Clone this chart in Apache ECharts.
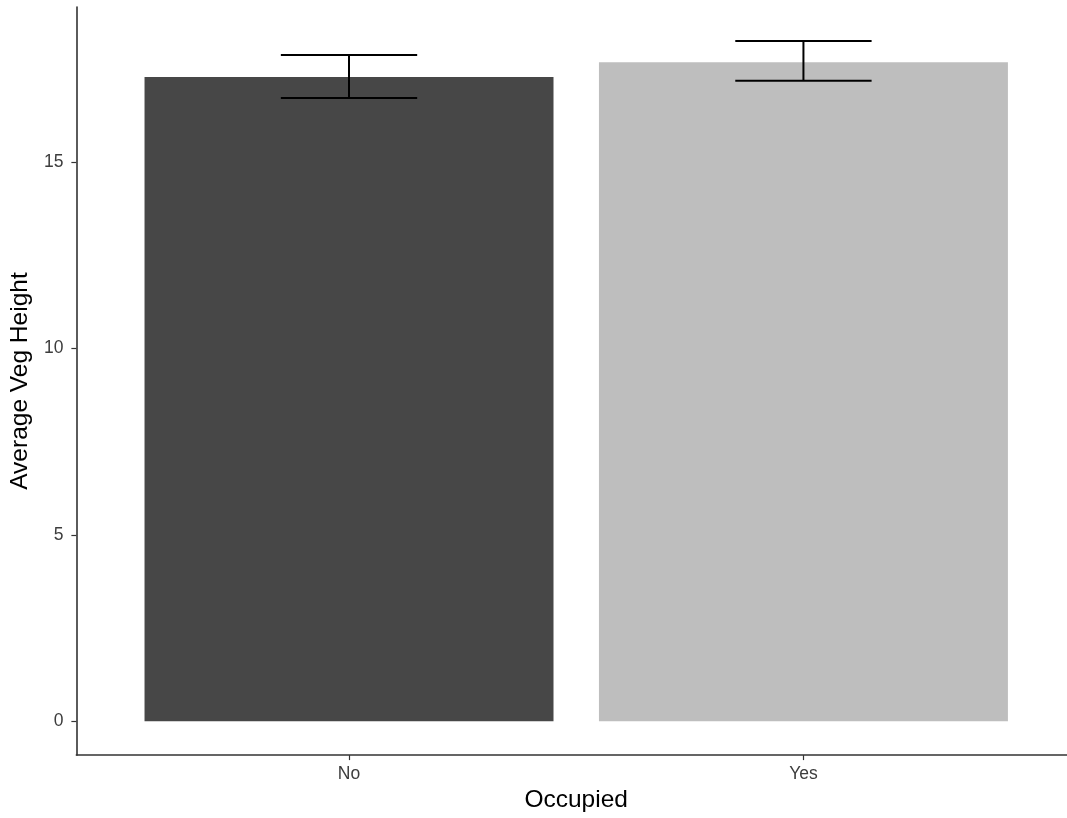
<!DOCTYPE html>
<html>
<head>
<meta charset="utf-8">
<title>Average Veg Height by Occupied</title>
<script src="https://cdn.jsdelivr.net/npm/echarts@6/dist/echarts.min.js"></script>
<style>
  html, body { margin: 0; padding: 0; background: #fff; }
  #chart { width: 1067px; height: 818px; }
</style>
</head>
<body>
<div id="chart"></div>
<script>
// data
const categories = ["No", "Yes"];
const means = [17.29, 17.69];
const lower = [16.73, 17.19];
const upper = [17.88, 18.26];
const yTicks = [0, 5, 10, 15];

const barColors = ["#474747", "#bebebe"];
const font = '"Liberation Sans", Arial, Helvetica, sans-serif';

const xPos = categories.map((c, i) => i + 1);
const barData = categories.map((c, i) => [xPos[i], means[i]]);
const errData = categories.map((c, i) => [xPos[i], lower[i], upper[i]]);

const chart = echarts.init(document.getElementById("chart"));

const option = {
  animation: false,
  backgroundColor: "#fff",
  grid: { left: 76, right: 0, top: 7, bottom: 60 },
  xAxis: {
    type: "value",
    min: 0.4,
    max: 2.58, // plot is cropped a little on the right
    name: "Occupied",
    nameLocation: "middle",
    nameGap: 29,
    nameTextStyle: { color: "#000", fontSize: 24.5, fontFamily: font, padding: [0, 0, 0, 9] },
    splitLine: { show: false },
    axisLine: { onZero: false, lineStyle: { color: "#333", width: 1.6 } },
    axisTick: { customValues: xPos, length: 5, lineStyle: { color: "#333", width: 1.2 } },
    axisLabel: {
      customValues: xPos,
      formatter: (v) => categories[Math.round(v) - 1] || "",
      margin: 10,
      color: "#3d3d3d",
      fontSize: 17.5,
      fontFamily: font,
    },
  },
  yAxis: {
    type: "value",
    min: -0.91,
    max: 19.17,
    name: "Average Veg Height",
    nameLocation: "middle",
    nameGap: 32,
    nameTextStyle: { color: "#000", fontSize: 24.5, fontFamily: font },
    splitLine: { show: false },
    axisLine: { show: true, onZero: false, lineStyle: { color: "#333", width: 1.6 } },
    axisTick: { show: true, customValues: yTicks, length: 5, lineStyle: { color: "#333", width: 1.2 } },
    axisLabel: {
      customValues: yTicks,
      margin: 13,
      color: "#3d3d3d",
      fontSize: 17.5,
      fontFamily: font,
    },
  },
  series: [
    {
      name: "bars",
      type: "custom",
      data: barData,
      renderItem: (params, api) => {
        const x = api.value(0);
        const y = api.value(1);
        const p0 = api.coord([x - 0.45, y]);
        const p1 = api.coord([x + 0.45, 0]);
        return {
          type: "rect",
          shape: { x: p0[0], y: p0[1], width: p1[0] - p0[0], height: p1[1] - p0[1] },
          style: { fill: barColors[params.dataIndex] },
        };
      },
    },
    {
      name: "errors",
      type: "custom",
      data: errData,
      z: 3,
      renderItem: (params, api) => {
        const x = api.value(0);
        const lo = api.coord([x, api.value(1)]);
        const hi = api.coord([x, api.value(2)]);
        const l = api.coord([x - 0.15, 0])[0];
        const r = api.coord([x + 0.15, 0])[0];
        const st = { stroke: "#000", lineWidth: 2 };
        return {
          type: "group",
          children: [
            { type: "line", shape: { x1: l, y1: hi[1], x2: r, y2: hi[1] }, style: st },
            { type: "line", shape: { x1: l, y1: lo[1], x2: r, y2: lo[1] }, style: st },
            { type: "line", shape: { x1: lo[0], y1: lo[1], x2: hi[0], y2: hi[1] }, style: st },
          ],
        };
      },
    },
  ],
};

chart.setOption(option);
window.addEventListener("resize", () => chart.resize());
</script>
</body>
</html>
